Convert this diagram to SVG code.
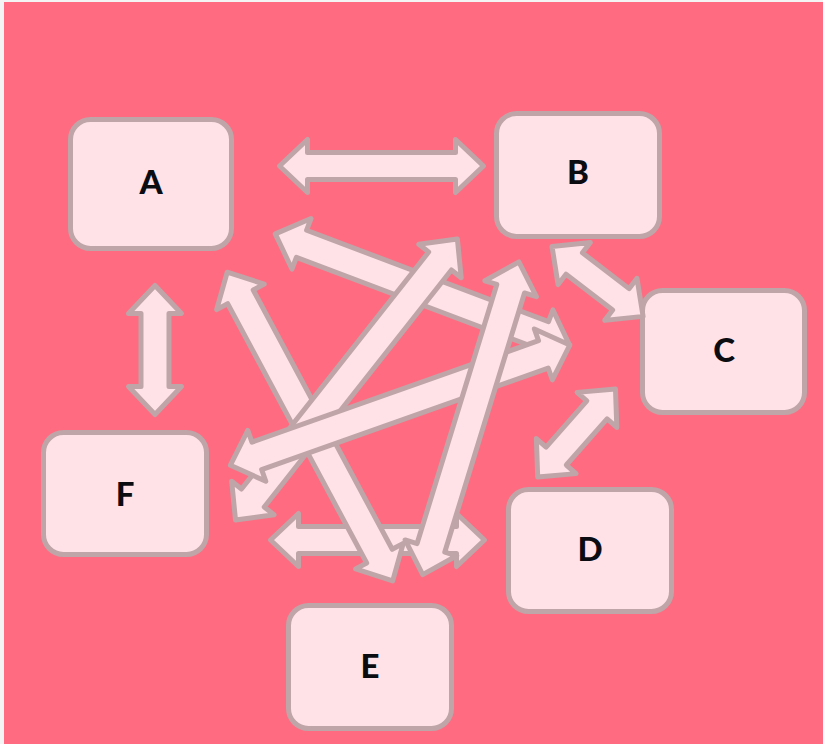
<svg xmlns="http://www.w3.org/2000/svg" width="823" height="744" viewBox="0 0 823 744">
<style>
.node rect{fill:#FFE2E7;stroke:#BFA5A8;stroke-width:5}
.node text{font-family:Lato,"Liberation Sans",sans-serif;font-weight:900;font-size:33px;fill:#0b0b12;text-anchor:middle}
.arr{fill:#FFE2E7;stroke:#BFA5A8;stroke-width:5;stroke-linejoin:round}
</style>
<rect x="0" y="0" width="823" height="744" fill="#f4f4f4"/>
<rect x="4" y="2" width="819" height="742" fill="#FF6B81"/>
<g id="A" class="node"><rect x="70.5" y="119.5" width="161" height="129" rx="20"/><text x="151" y="194">A</text></g>
<g id="B" class="node"><rect x="496.5" y="113.5" width="163" height="123" rx="20"/><text x="578" y="184">B</text></g>
<g id="C" class="node"><rect x="642.5" y="290.5" width="162" height="122" rx="20"/><text x="724" y="362">C</text></g>
<g id="D" class="node"><rect x="508.5" y="489.5" width="163" height="122" rx="20"/><text x="590" y="561">D</text></g>
<g id="E" class="node"><rect x="288.5" y="605.5" width="163" height="123" rx="20"/><text x="370" y="678">E</text></g>
<g id="F" class="node"><rect x="43.5" y="432.5" width="163" height="122" rx="20"/><text x="125" y="506">F</text></g>
<g id="connectors">
<polygon class="arr" transform="translate(270.5,540)" points="0,0 28,-26.5 28,-13.5 186,-13.5 186,-26.5 214,0 186,26.5 186,13.5 28,13.5 28,26.5"/>
<polygon class="arr" transform="translate(279.5,166)" points="0,0 28,-26.5 28,-13.5 176,-13.5 176,-26.5 204,0 176,26.5 176,13.5 28,13.5 28,26.5"/>
<polygon class="arr" transform="translate(155,285.5) rotate(90)" points="0,0 28,-26.5 28,-14 101,-14 101,-26.5 129,0 101,26.5 101,14 28,14 28,26.5"/>
<polygon class="arr" transform="translate(552,246.5) rotate(37.5)" points="0,0 28,-26.5 28,-13.5 86.8,-13.5 86.8,-26.5 114.8,0 86.8,26.5 86.8,13.5 28,13.5 28,26.5"/>
<polygon class="arr" transform="translate(537.7,477.1) rotate(-48.6)" points="0,0 28,-26.5 28,-13.5 89.6,-13.5 89.6,-26.5 117.6,0 89.6,26.5 89.6,13.5 28,13.5 28,26.5"/>
<polygon class="arr" transform="translate(227.2,272.2) rotate(61.8)" points="0,0 28,-27 28,-14.5 322.2,-14.5 322.2,-27 350.2,0 322.2,27 322.2,14.5 28,14.5 28,27"/>
<polygon class="arr" transform="translate(275.3,233.9) rotate(20.7)" points="0,0 28,-27 28,-14.5 286.6,-14.5 286.6,-27 314.6,0 286.6,27 286.6,14.5 28,14.5 28,27"/>
<polygon class="arr" transform="translate(235.5,520) rotate(-51.7)" points="0,0 28,-27 28,-14.5 330,-14.5 330,-27 358,0 330,27 330,14.5 28,14.5 28,27"/>
<polygon class="arr" transform="translate(230.4,465.2) rotate(-19.5)" points="0,0 28,-27 28,-14.5 332,-14.5 332,-27 360,0 332,27 332,14.5 28,14.5 28,27"/>
<polygon class="arr" transform="translate(422.7,574.6) rotate(-72.9)" points="0,0 28,-27 28,-14.5 299.1,-14.5 299.1,-27 327.1,0 299.1,27 299.1,14.5 28,14.5 28,27"/>
</g>
</svg>
